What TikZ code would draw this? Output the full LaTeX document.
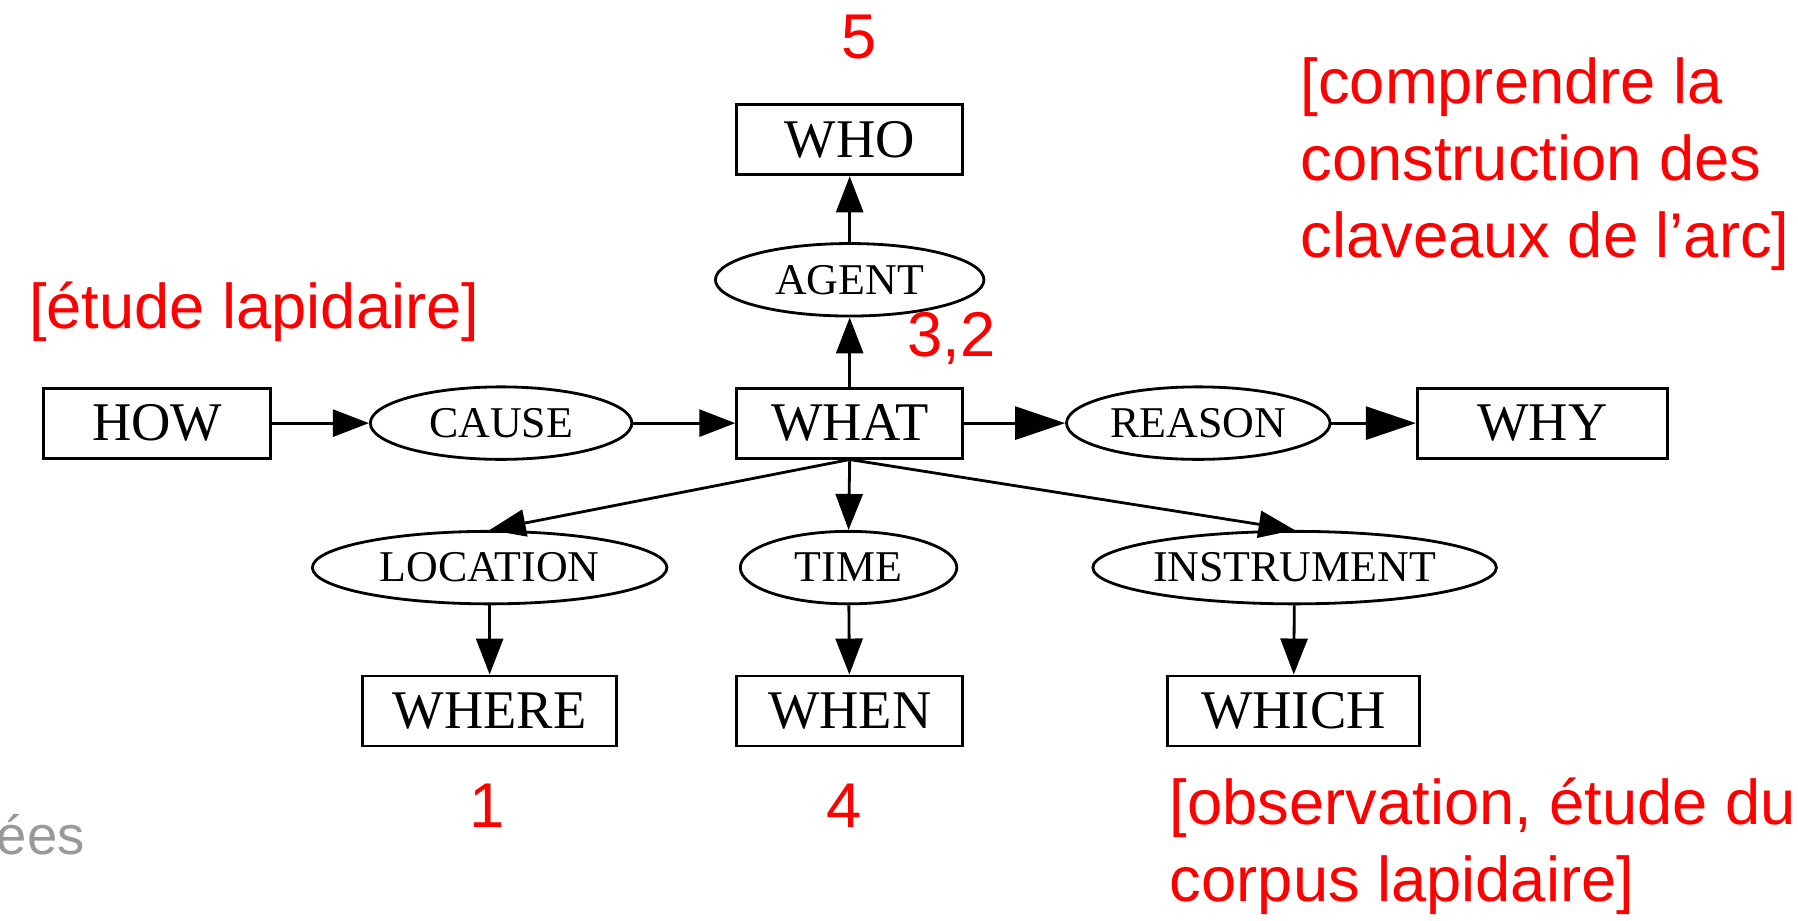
\documentclass[tikz,border=0pt]{standalone}
\usepackage{fontspec}
\setmainfont{Liberation Serif}
\newfontfamily\redfont{Liberation Sans}
\usetikzlibrary{shapes.geometric,arrows.meta}
\begin{document}
\begin{tikzpicture}[x=0.02293cm,y=-0.02293cm,
 boxn/.style={draw,line width=1.6pt,rectangle,inner sep=0pt,minimum height=1.4cm,font=\fontsize{31}{34}\selectfont},
 ell/.style={draw,line width=1.6pt,ellipse,inner sep=0pt,minimum height=1.45cm,font=\fontsize{25}{28}\selectfont},
 arr/.style={line width=1.6pt,-{Triangle[length=0.72cm,width=0.54cm]}},
 bigarr/.style={line width=1.6pt,-{Triangle[length=1.0cm,width=0.66cm]}},
 redt/.style={text=red,font=\redfont\fontsize{36}{44}\selectfont,inner sep=0pt,align=left},
 grayt/.style={text=black!40,font=\redfont\fontsize{31}{38}\selectfont,inner sep=0pt}]
\useasboundingbox (0,0) rectangle (1568,803);
% boxes
\node[boxn,minimum width=4.54cm] (how)   at (137,369) {HOW};
\node[boxn,minimum width=4.52cm] (what)  at (741,369) {WHAT};
\node[boxn,minimum width=5.0cm]  (why)   at (1345,369) {WHY};
\node[boxn,minimum width=4.52cm] (who)   at (741,122) {WHO};
\node[boxn,minimum width=5.07cm] (where) at (427,620) {WHERE};
\node[boxn,minimum width=4.52cm] (when)  at (741,620) {WHEN};
\node[boxn,minimum width=5.04cm] (which) at (1128,620) {WHICH};
% ellipses
\node[ell,minimum width=5.23cm] (cause)  at (437,369) {CAUSE};
\node[ell,minimum width=5.27cm] (reason) at (1045,369) {REASON};
\node[ell,minimum width=5.37cm] (agent)  at (741,244) {AGENT};
\node[ell,minimum width=7.09cm] (loc)    at (427,495) {LOCATION};
\node[ell,minimum width=4.33cm] (time)   at (740,495) {TIME};
\node[ell,minimum width=8.07cm] (inst)   at (1129,495) {INSTRUMENT};
% connectors
\draw[arr] (how) -- (cause);
\draw[arr] (cause) -- (what);
\draw[bigarr] (what) -- (reason);
\draw[bigarr] (reason) -- (why);
\draw[arr] (what) -- (agent);
\draw[arr] (agent) -- (who);
\draw[arr] (what.south) -- (loc.north);
\draw[arr] (what.south) -- (time.north);
\draw[arr] (what.south) -- (inst.north);
\draw[arr] (loc) -- (where);
\draw[arr] (time) -- (when);
\draw[arr] (inst) -- (which);
% red annotations
\node[redt] (n5) at (749,32) {5};
\node[redt] (n32) at (830,295) {3,2};
\node[redt] (n1) at (425,703) {1};
\node[redt] (n4) at (736,703) {4};
\node[redt,anchor=west] (comp) at (1134,143) {[comprendre la\\construction des\\claveaux de l’arc]};
\node[redt,anchor=west] (etude) at (25,272) {[étude lapidaire]};
\node[redt,anchor=west] (obs) at (1020,738) {[observation, étude du\\corpus lapidaire]};
\node[grayt,anchor=west] (ees) at (-3,728) {ées};
\end{tikzpicture}
\end{document}
